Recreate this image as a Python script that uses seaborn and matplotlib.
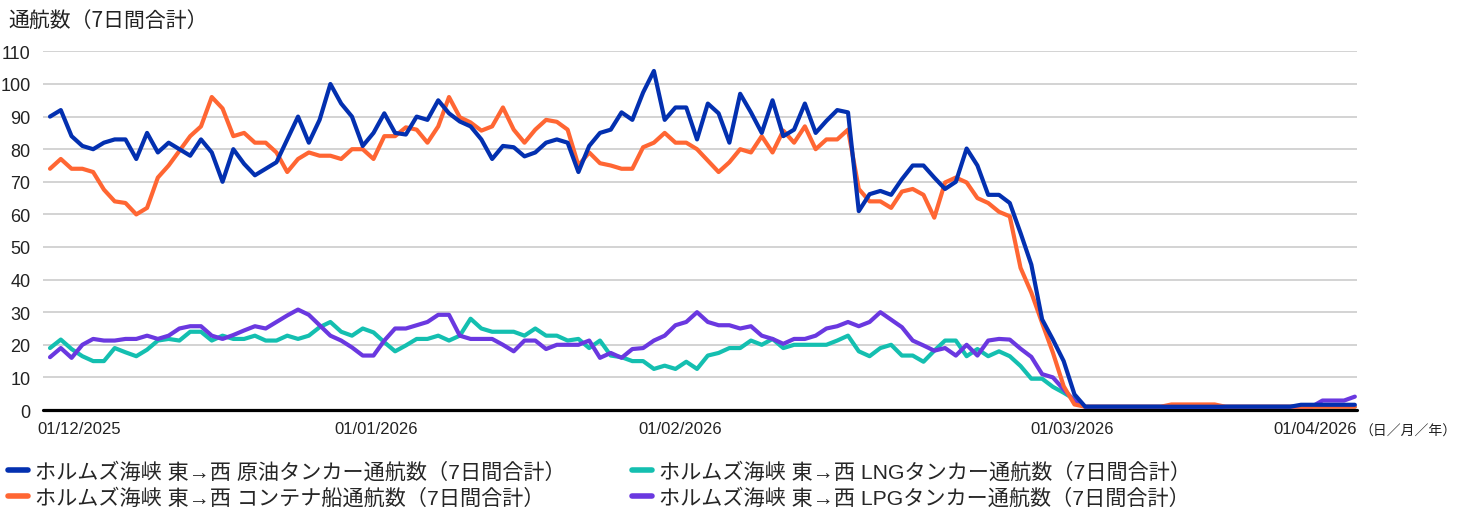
# ============================================================
#  ホルムズ海峡 東→西 通航数（7日間合計）
# ============================================================

# ── IMPORTS ──────────────────────────────────────────────────
import pandas as pd
import numpy as np
import matplotlib
matplotlib.use("Agg")
import matplotlib.pyplot as plt
from matplotlib.lines import Line2D
from matplotlib import font_manager
import seaborn as sns

# ─────────────────────────────────────────────────────────────
# DATA (7-day totals)
# ─────────────────────────────────────────────────────────────
crude = [90, 92, 84, 81, 80, 82, 83, 83, 77, 85, 79, 82, 80, 78, 83, 79, 70, 80, 75.5, 72,
         74, 76, 83, 90, 82, 89, 100, 94, 90, 81, 85, 91, 85, 84.5, 90, 89, 95, 91, 88.5, 87,
         83, 77, 81, 80.6, 77.8, 79, 82, 83, 82, 73, 81, 85, 86, 91.3, 89, 97.4, 104, 89, 92.8, 92.8,
         83, 94, 91, 82, 97, 91.3, 85, 95, 84, 86, 94, 85, 88.7, 92, 91.3, 61, 66.2, 67.2, 66, 70.8,
         75, 75, 71.3, 67.8, 70, 80.2, 75, 66, 66, 63.5, 54.3, 44.6, 27.8, 21.6, 15, 4.8,
         1, 1, 1, 1, 1, 1, 1, 1, 1, 1, 1, 1, 1, 1, 1, 1, 1, 1, 1, 1, 1.6, 1.6, 1.6, 1.6, 1.6, 1.6]
container = [74, 77, 74, 74, 73, 67.6, 64, 63.5, 60, 62, 71.3, 75, 79.5, 84, 87, 96, 92.5, 84, 85, 82,
             82, 79, 73, 77, 79, 78, 78, 77, 80, 80, 77, 84, 84, 86.7, 86, 82, 87, 96, 89.8, 88.2,
             85.7, 87, 92.8, 86, 82, 86, 89, 88.4, 86, 75, 79, 75.7, 75, 74, 74, 80.6, 82, 85, 82, 82,
             80, 76.5, 73, 76, 80, 79, 84, 79, 85.7, 82, 87, 80, 83, 83, 86, 67.8, 64, 64, 62, 67,
             67.8, 66, 59, 69.8, 71.3, 69.8, 65, 63.5, 60.8, 59.4, 43.6, 36, 26.7, 17.6, 7.3, 1.7,
             1, 1, 1, 1, 1, 1, 1, 1, 1.7, 1.7, 1.7, 1.7, 1.7, 1, 1, 1, 1, 1, 1, 1, 1, 1, 1, 1, 1, 1]
lng = [19, 21.6, 18.7, 16.5, 15, 15, 19, 17.7, 16.5, 18.5, 21.3, 21.8, 21.3, 24, 24, 21.3, 22.8, 21.8, 21.8, 22.8,
       21.3, 21.3, 22.8, 21.8, 22.8, 25.4, 27, 24, 22.8, 25, 23.8, 20.8, 18, 19.8, 21.8, 21.8, 22.8, 21.3, 22.8, 28,
       25, 24, 24, 24, 22.8, 25, 22.8, 22.8, 21.3, 21.8, 19, 21.3, 16.7, 16.2, 15, 15, 12.6, 13.6, 12.6, 14.8,
       12.6, 16.7, 17.5, 19, 19, 21.3, 20, 21.8, 19, 20, 20, 20, 20, 21.3, 22.8, 18, 16.5, 19, 20, 16.7,
       16.7, 14.8, 18.2, 21.3, 21.3, 16.5, 18.7, 16.5, 18, 16.5, 13.5, 9.6, 9.6, 7.1, 5.3, 3.3,
       1, 1, 1, 1, 1, 1, 1, 1, 1, 1, 1, 1, 1, 1, 1, 1, 1, 1, 1, 1, 1, 1, 1, 1, 1, 1]
lpg = [16.2, 19, 16, 20, 21.8, 21.3, 21.3, 21.8, 21.8, 22.8, 21.8, 22.8, 25, 25.7, 25.7, 22.8, 21.8, 23, 24.4, 25.7,
       25, 27, 29, 30.8, 29.2, 26, 22.8, 21.3, 19.2, 16.7, 16.7, 21.3, 25, 25, 26, 27, 29.2, 29.2, 22.8, 21.8,
       21.8, 21.8, 20, 18, 21.3, 21.3, 18.7, 20, 20, 20, 21.3, 16, 17.5, 16, 18.7, 19, 21.3, 22.8, 26, 27,
       30, 27, 26, 26, 25, 25.7, 22.8, 21.8, 20.3, 21.8, 21.8, 22.8, 25, 25.7, 27, 25.7, 27, 30, 27.7, 25.4,
       21.3, 19.8, 18.2, 19, 16.7, 20, 16.7, 21.3, 21.8, 21.6, 18.8, 16.3, 11, 10, 6.3, 2.8,
       1, 1, 1, 1, 1, 1, 1, 1, 1, 1, 1, 1, 1, 1, 1, 1, 1, 1, 1, 1, 1, 1, 2.9, 2.9, 2.9, 4.1]

series_names = [
    "ホルムズ海峡 東→西 原油タンカー通航数（7日間合計）",
    "ホルムズ海峡 東→西 コンテナ船通航数（7日間合計）",
    "ホルムズ海峡 東→西 LNGタンカー通航数（7日間合計）",
    "ホルムズ海峡 東→西 LPGタンカー通航数（7日間合計）",
]
date_labels = ["01/12/2025", "01/01/2026", "01/02/2026", "01/03/2026", "01/04/2026"]
date_label_idx = [2.7, 30.2, 58.4, 94.8, 117.3]    # where the category labels sit
y_ticks = list(range(0, 111, 10))

colors = ["#0330B0", "#FF6633", "#14BFB0", "#6A38E0"]

# long-form table for seaborn
values = [crude, container, lng, lpg]
df = pd.concat([
    pd.DataFrame({"idx": np.arange(len(v)), "value": v, "series": name})
    for name, v in zip(series_names, values)
], ignore_index=True)

# ─────────────────────────────────────────────────────────────
# FONTS
# ─────────────────────────────────────────────────────────────
sns.set_theme(style="white")
installed = {f.name for f in font_manager.fontManager.ttflist}
narrow = "Liberation Sans Narrow" if "Liberation Sans Narrow" in installed else "Liberation Sans"
plt.rcParams["font.family"] = [narrow, "Noto Sans CJK JP", "DejaVu Sans"]
cjk = ["Noto Sans CJK JP", "DejaVu Sans"]

# ─────────────────────────────────────────────────────────────
# PLOT
# ─────────────────────────────────────────────────────────────
W, H = 1459, 510
fig = plt.figure(figsize=(W / 100, H / 100), dpi=100)
ax = fig.add_axes([43 / W, 1 - 411 / H, (1357 - 43) / W, (411 - 52.4) / H])

# draw order: teal, purple, orange, blue on top
draw_order = [series_names[2], series_names[3], series_names[1], series_names[0]]
palette = dict(zip(series_names, colors))
sns.lineplot(data=df, x="idx", y="value", hue="series", hue_order=draw_order,
             palette=palette, linewidth=3, legend=False, ax=ax, zorder=3)

ax.set_ylim(0, 110)
ax.set_xlim(-0.65, len(crude) - 1 + 0.2)
ax.set_yticks(y_ticks)
ax.set_yticklabels([str(t) for t in y_ticks])
ax.set_xticks(date_label_idx)
ax.set_xticklabels(date_labels)
ax.tick_params(axis="y", length=0, pad=9, labelsize=13, labelcolor="#222222")
ax.tick_params(axis="x", length=0, pad=8, labelsize=12, labelcolor="#222222")
ax.set_xlabel("")
ax.set_ylabel("")

for s in ax.spines.values():
    s.set_visible(False)
ax.grid(False)
for t in y_ticks[1:]:
    ax.axhline(t, color="#C8C8C8", linewidth=1.1, zorder=1)
ax.axhline(0, color="black", linewidth=2.3, zorder=2, clip_on=False)

# title and date-format note
fig.text(8 / W, 1 - 21 / H, "通航数（7日間合計）", fontsize=15, family=cjk,
         color="#222222", ha="left", va="center")
fig.text(1359 / W, 1 - 432 / H, "（日／月／年）", fontsize=10, family=cjk,
         color="#222222", ha="left", va="center")

# legend in two columns, placed as in the reference
handles = [Line2D([0], [0], color=c, linewidth=4) for c in colors]
for cols, x0 in [([0, 1], 8), ([2, 3], 632)]:
    fig.legend([handles[i] for i in cols], [series_names[i] for i in cols],
               loc="center left", bbox_to_anchor=(x0 / W, 1 - 485.5 / H),
               frameon=False, handlelength=0.95, handletextpad=0.33,
               labelspacing=0.25, borderpad=0, borderaxespad=0,
               prop={"family": [narrow] + cjk, "size": 15.2})

plt.savefig("out.png", dpi=100)
